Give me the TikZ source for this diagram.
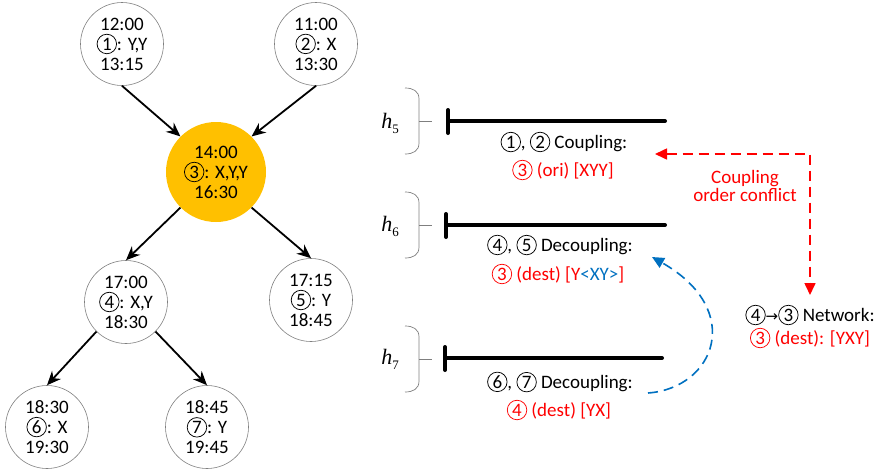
\documentclass[tikz,border=0pt]{standalone}
\usepackage{fontspec}
\setmainfont{Carlito}
\newfontfamily\tnr{Liberation Serif}
\newfontfamily\djv{DejaVu Sans}
\usetikzlibrary{arrows.meta}
\definecolor{gold}{HTML}{FFC000}
\definecolor{xred}{HTML}{FF0000}
\definecolor{xblue}{HTML}{0070C0}
\definecolor{rim}{HTML}{7F7F7F}
% circled step number
\newcommand\cn[2][black]{\tikz[baseline=(cnum.base)]\node[circle,draw=#1,text=#1,line width=0.75pt,inner sep=0pt,minimum size=19.5pt] (cnum) {#2};}
\begin{document}
\begin{tikzpicture}[x=1pt,y=-1pt,
  state/.style={circle,draw=rim,line width=0.6pt,minimum size=83pt,inner sep=0pt,align=center,font=\fontsize{19}{20}\selectfont},
  hub/.style={state,fill=gold,draw=none,minimum size=100pt},
  link/.style={line width=1.8pt,-{Stealth[length=14pt,width=12pt]}},
  lbl/.style={font=\fontsize{19}{21}\selectfont,inner sep=0pt},
  hlbl/.style={font=\fontsize{22}{22}\selectfont\tnr,inner sep=0pt},
  bar/.style={line width=4pt,line cap=round},
  bracepath/.style={draw=rim,line width=0.7pt},
  conflict/.style={xred,line width=1.6pt,dash pattern=on 10pt off 6pt},
  reorder/.style={xblue,line width=1.6pt,dash pattern=on 10pt off 6pt},
  hbrace/.pic={
    \draw[bracepath] (-14,-33) .. controls (-6,-33) and (0,-30) .. (0,-22) -- (0,22)
      .. controls (0,30) and (-6,33) .. (-14,33);
    \draw[bracepath] (0,0) -- (13,0);
  }]
\useasboundingbox (0,0) rectangle (878,475);

% tree of flights
\node[state] (n1) at (122,44) {12:00\\\cn{1}: Y,Y\\13:15};
\node[state] (n2) at (316,44) {11:00\\\cn{2}: X\\13:30};
\node[hub]   (n3) at (216,172) {14:00\\\cn{3}: X,Y,Y\\16:30};
\node[state] (n4) at (126,302) {17:00\\\cn{4}: X,Y\\18:30};
\node[state] (n5) at (311,300) {17:15\\\cn{5}: Y\\18:45};
\node[state] (n6) at (47,427) {18:30\\\cn{6}: X\\19:30};
\node[state] (n7) at (207,427) {18:45\\\cn{7}: Y\\19:45};

\draw[link] (n1.south) -- (n3.135);
\draw[link] (n2.south) -- (n3.45);
\draw[link] (n3.-135) -- (n4.north);
\draw[link] (n3.-45) -- (n5.north);
\draw[link] (n4.-135) -- (n6.north);
\draw[link] (n4.-45) -- (n7.north);

% time slots
\pic at (419,121) {hbrace};
\pic at (419,225) {hbrace};
\pic at (419,359) {hbrace};
\node[hlbl] (h5) at (390,123) {\textit{h}\raisebox{-5pt}{\fontsize{13}{13}\selectfont 5}};
\node[hlbl] (h6) at (390,226) {\textit{h}\raisebox{-5pt}{\fontsize{13}{13}\selectfont 6}};
\node[hlbl] (h7) at (390,359) {\textit{h}\raisebox{-5pt}{\fontsize{13}{13}\selectfont 7}};

\draw[bar] (448,110) -- (448,133);
\draw[bar] (448,121) -- (665,121);
\draw[bar] (446,214) -- (446,237);
\draw[bar] (446,225) -- (665,225);
\draw[bar] (445,347) -- (445,370);
\draw[bar] (445,358) -- (662,358);

\node[lbl] (t5a) at (564,142) {\cn{1}, \cn{2} Coupling:};
\node[lbl,text=xred] (t5b) at (563,170) {\cn[xred]{3} (ori) [XYY]};
\node[lbl] (t6a) at (560,245) {\cn{4}, \cn{5} Decoupling:};
\node[lbl,text=xred] (t6b) at (558,274) {\cn[xred]{3} (dest) [Y\textcolor{xblue}{<XY>}]};
\node[lbl] (t7a) at (560,382) {\cn{6}, \cn{7} Decoupling:};
\node[lbl,text=xred] (t7b) at (559,410) {\cn[xred]{4} (dest) [YX]};

% network side
\node[lbl,text=xred,align=center,font=\fontsize{19}{18}\selectfont] (conf) at (745,186) {Coupling\\order conflict};
\node[lbl] (net) at (810,315) {\cn{4}{\djv\fontsize{15}{15}\selectfont →}\cn{3} Network:};
\node[lbl,text=xred] (netb) at (810,338) {\cn[xred]{3} (dest): [YXY]};

\coordinate (tipL) at (655,154);
\coordinate (corner) at (810,154);
\coordinate (tipD) at (810,295);
\draw[conflict,{Triangle[length=12pt,width=11pt]}-{Triangle[length=12pt,width=11pt]}] (tipL) -- (corner) -- (tipD);

\coordinate (bstart) at (648,393);
\coordinate (bend) at (652,257);
\draw[reorder,-{Triangle[length=12pt,width=11pt]}] (bstart) .. controls (715,388) and (745,310) .. (bend);
\end{tikzpicture}
\end{document}
